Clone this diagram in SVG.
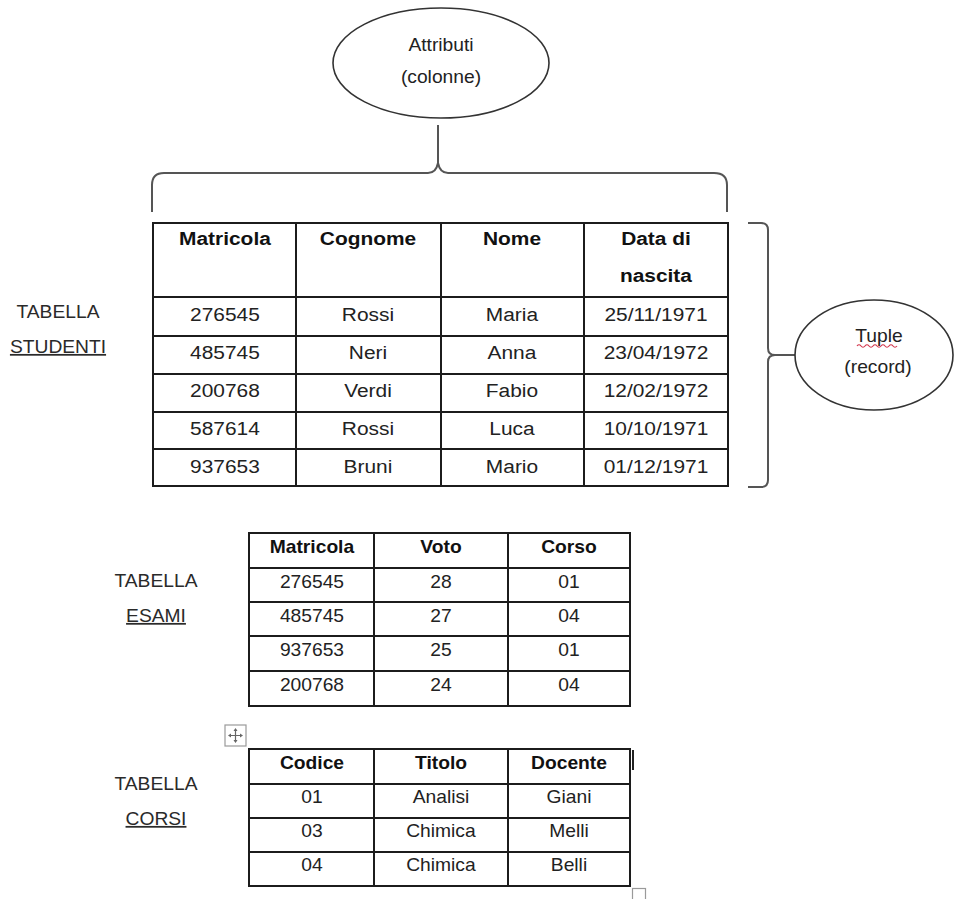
<svg xmlns="http://www.w3.org/2000/svg" width="954" height="899" viewBox="0 0 954 899">
  <style>
    text { font-family: "Liberation Sans", Arial, sans-serif; fill: #222; text-anchor: middle;
           transform-box: fill-box; transform-origin: center; transform: scaleX(1.1); }
    .big { font-size: 19px; }
    .sm { font-size: 17.5px; }
    .hd { font-weight: bold; fill: #111; }
    .lbl { font-size: 17.5px; fill: #2a2a2a; }
    .u { text-decoration: underline; }
    .grid { fill: none; stroke: #1c1c1c; stroke-width: 2; }
    .brace { fill: none; stroke: #555; stroke-width: 2; stroke-linejoin: round; }
    .oval { fill: #fff; stroke: #333; stroke-width: 1.6; }
    .ui { fill: #fff; stroke: #9a9a9a; stroke-width: 1.2; }
  </style>

  <rect width="954" height="899" fill="#fff"/>

  <!-- braces linking the tables to the two callouts -->
  <g id="connectors">
    <path class="brace" d="M152,212 V185 Q152,173 164,173 H428 Q436,173 438,163 V125 M438,163 Q440,173 448,173 H714 Q727,173 727,185 V212"/>
    <path class="brace" d="M748,223 H761 Q768,223 768,230 V348 Q768,355 775,355 Q768,355 768,362 V480 Q768,487 761,487 H748 M775,355 H795"/>
  </g>

  <!-- callout: attributes -->
  <g id="attributi">
    <ellipse class="oval" cx="441" cy="63" rx="108" ry="55"/>
    <text class="sm" x="441" y="51">Attributi</text>
    <text class="sm" x="441" y="83">(colonne)</text>
  </g>

  <!-- callout: tuples -->
  <g id="tuple">
    <ellipse class="oval" cx="874" cy="355" rx="79" ry="55"/>
    <text class="sm" x="879" y="342">Tuple</text>
    <path d="M857,346 q2,-2.5 4,0 t4,0 t4,0 t4,0 t4,0 t4,0 t4,0 t4,0 t4,0 t4,0" fill="none" stroke="#d2334a" stroke-width="1.2"/>
    <text class="sm" x="878" y="373">(record)</text>
  </g>

  <!-- table STUDENTI -->
  <g id="label-studenti">
    <text class="lbl" x="58" y="318">TABELLA</text>
    <text class="lbl u" x="58" y="353">STUDENTI</text>
  </g>
  <g id="tabella-studenti">
    <rect class="grid" x="153" y="223" width="575" height="263"/>
    <path class="grid" d="M296,223 V486 M441,223 V486 M584,223 V486 M153,297 H728 M153,336 H728 M153,374 H728 M153,412 H728 M153,449 H728"/>
    <g class="big">
      <text class="hd" x="225" y="245">Matricola</text>
      <text class="hd" x="368" y="245">Cognome</text>
      <text class="hd" x="512" y="245">Nome</text>
      <text class="hd" x="656" y="245">Data di</text>
      <text class="hd" x="656" y="282">nascita</text>

      <text x="225" y="321">276545</text><text x="368" y="321">Rossi</text><text x="512" y="321">Maria</text><text x="656" y="321">25/11/1971</text>
      <text x="225" y="359">485745</text><text x="368" y="359">Neri</text><text x="512" y="359">Anna</text><text x="656" y="359">23/04/1972</text>
      <text x="225" y="397">200768</text><text x="368" y="397">Verdi</text><text x="512" y="397">Fabio</text><text x="656" y="397">12/02/1972</text>
      <text x="225" y="435">587614</text><text x="368" y="435">Rossi</text><text x="512" y="435">Luca</text><text x="656" y="435">10/10/1971</text>
      <text x="225" y="473">937653</text><text x="368" y="473">Bruni</text><text x="512" y="473">Mario</text><text x="656" y="473">01/12/1971</text>
    </g>
  </g>

  <!-- table ESAMI -->
  <g id="label-esami">
    <text class="lbl" x="156" y="587">TABELLA</text>
    <text class="lbl u" x="156" y="622">ESAMI</text>
  </g>
  <g id="tabella-esami">
    <rect class="grid" x="249" y="533" width="381" height="173"/>
    <path class="grid" d="M374,533 V706 M508,533 V706 M249,568 H630 M249,602 H630 M249,636 H630 M249,671 H630"/>
    <g class="sm">
      <text class="hd" x="312" y="553">Matricola</text>
      <text class="hd" x="441" y="553">Voto</text>
      <text class="hd" x="569" y="553">Corso</text>

      <text x="312" y="588">276545</text><text x="441" y="588">28</text><text x="569" y="588">01</text>
      <text x="312" y="622">485745</text><text x="441" y="622">27</text><text x="569" y="622">04</text>
      <text x="312" y="656">937653</text><text x="441" y="656">25</text><text x="569" y="656">01</text>
      <text x="312" y="691">200768</text><text x="441" y="691">24</text><text x="569" y="691">04</text>
    </g>
  </g>

  <!-- table CORSI -->
  <g id="label-corsi">
    <text class="lbl" x="156" y="790">TABELLA</text>
    <text class="lbl u" x="156" y="825">CORSI</text>
  </g>
  <g id="tabella-corsi">
    <rect class="grid" x="249" y="749" width="381" height="137"/>
    <path class="grid" d="M374,749 V886 M508,749 V886 M249,784 H630 M249,818 H630 M249,852 H630"/>
    <g class="sm">
      <text class="hd" x="312" y="769">Codice</text>
      <text class="hd" x="441" y="769">Titolo</text>
      <text class="hd" x="569" y="769">Docente</text>

      <text x="312" y="803">01</text><text x="441" y="803">Analisi</text><text x="569" y="803">Giani</text>
      <text x="312" y="837">03</text><text x="441" y="837">Chimica</text><text x="569" y="837">Melli</text>
      <text x="312" y="871">04</text><text x="441" y="871">Chimica</text><text x="569" y="871">Belli</text>
    </g>
  </g>

  <!-- editor handles around the last table -->
  <g id="table-handles">
    <rect class="ui" x="225" y="725" width="21" height="21"/>
    <path d="M235.5,729 V742 M229,735.5 H242" stroke="#666" stroke-width="1.2"/>
    <path d="M235.5,728 l-2,3 h4 z M235.5,743 l-2,-3 h4 z M228,735.5 l3,-2 v4 z M243,735.5 l-3,-2 v4 z" fill="#666"/>
    <rect x="632" y="750" width="2" height="20" fill="#222"/>
    <rect class="ui" x="632.5" y="888.5" width="13" height="13"/>
  </g>
</svg>
